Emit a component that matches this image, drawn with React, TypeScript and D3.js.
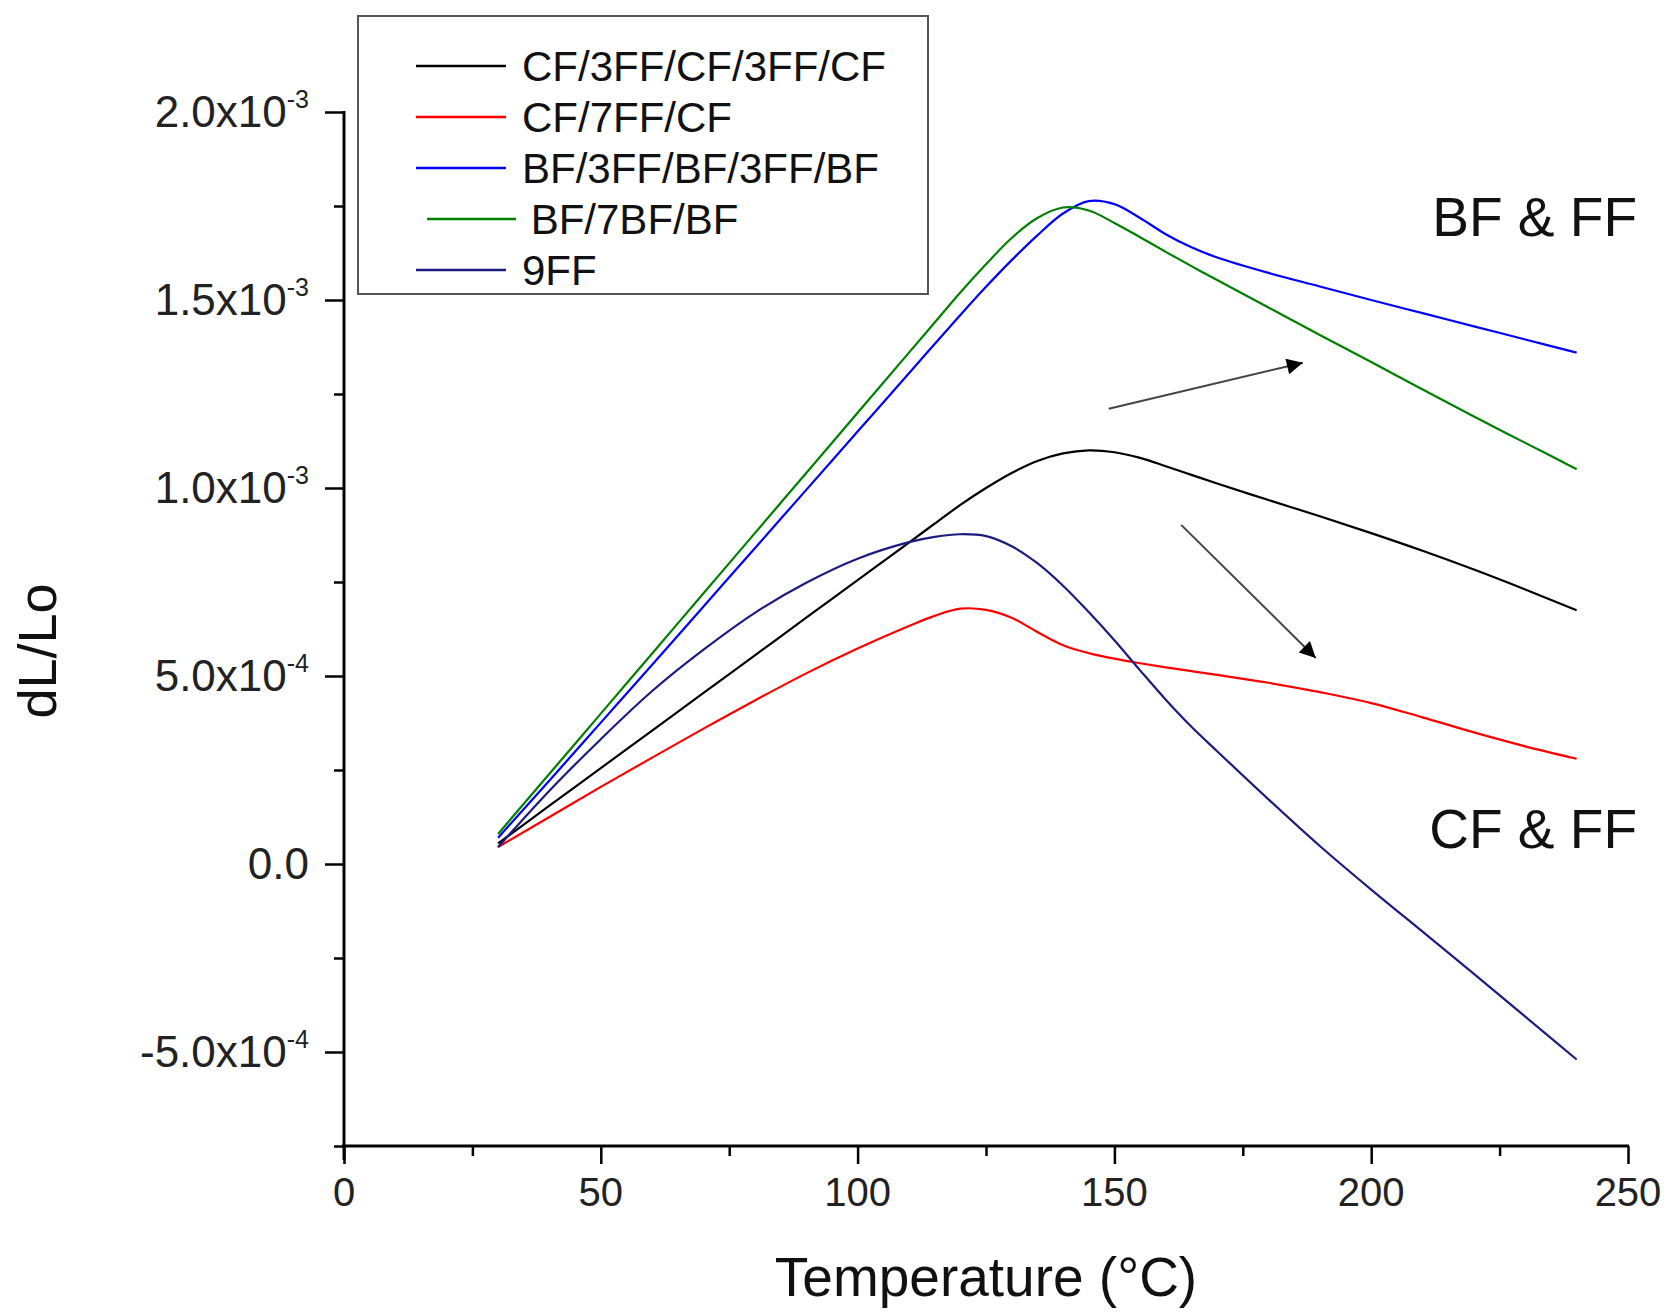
import React, { useEffect, useRef } from 'react';
import * as d3 from 'd3';

// temperatures (°C) shared by every series
const temps = [30, 40, 50, 60, 70, 80, 90, 100, 110, 115, 120, 125, 130, 135, 140, 145, 150, 155, 160, 165, 170, 180, 190, 200, 210, 220, 230, 240];

// dL/Lo values, in units of 1e-3
const cf3ff = [0.055, 0.155, 0.255, 0.355, 0.455, 0.555, 0.655, 0.755, 0.855, 0.905, 0.955, 1.0, 1.04, 1.072, 1.092, 1.1, 1.095, 1.08, 1.058, 1.035, 1.012, 0.968, 0.925, 0.88, 0.833, 0.783, 0.73, 0.675];
const cf7ff = [0.045, 0.125, 0.205, 0.283, 0.36, 0.435, 0.507, 0.573, 0.633, 0.66, 0.679, 0.676, 0.655, 0.617, 0.582, 0.561, 0.546, 0.534, 0.523, 0.513, 0.503, 0.482, 0.457, 0.428, 0.39, 0.35, 0.313, 0.28];
const bf3ff = [0.07, 0.222, 0.376, 0.53, 0.685, 0.84, 0.995, 1.15, 1.305, 1.383, 1.46, 1.535, 1.606, 1.672, 1.73, 1.763, 1.755, 1.718, 1.675, 1.64, 1.613, 1.572, 1.536, 1.5, 1.465, 1.43, 1.395, 1.36];
const bf7bf = [0.08, 0.24, 0.4, 0.56, 0.72, 0.88, 1.04, 1.2, 1.36, 1.44, 1.52, 1.595, 1.665, 1.718, 1.746, 1.738, 1.705, 1.667, 1.628, 1.59, 1.553, 1.48, 1.407, 1.335, 1.262, 1.19, 1.12, 1.05];
const ff9 = [0.045, 0.195, 0.332, 0.46, 0.57, 0.668, 0.748, 0.812, 0.856, 0.87, 0.877, 0.872, 0.845, 0.8, 0.74, 0.67, 0.595, 0.515, 0.437, 0.365, 0.3, 0.172, 0.048, -0.068, -0.18, -0.292, -0.406, -0.52];

const seriesNames = ['CF/3FF/CF/3FF/CF', 'CF/7FF/CF', 'BF/3FF/BF/3FF/BF', ' BF/7BF/BF', '9FF'];
const seriesColors = ['#000000', '#ff0000', '#0000ff', '#008000', '#1c1c80'];
const seriesValues = [cf3ff, cf7ff, bf3ff, bf7bf, ff9];

const xTicks = [0, 50, 100, 150, 200, 250];
const yTicks = [-5e-4, 0, 5e-4, 1e-3, 1.5e-3, 2e-3];
const yTickMain = ['-5.0x10', '0.0', '5.0x10', '1.0x10', '1.5x10', '2.0x10'];
const yTickExp = ['-4', '', '-4', '-3', '-3', '-3'];

// arrows: [t0, v0, t1, v1]
const arrows = [
  [148.9, 1.211e-3, 186.7, 1.333e-3],
  [163.0, 0.902e-3, 189.2, 0.548e-3],
];

const FONT = '"Liberation Sans", Arial, sans-serif';

function App() {
  const ref = useRef(null);

  useEffect(() => {
    const svg = d3.select(ref.current);
    svg.selectAll('*').remove();

    const left = 344, right = 1628, top = 112, bottom = 1146;

    const x = d3.scaleLinear().domain([0, 250]).range([left, right]);
    const y = d3.scaleLinear().domain([-7.5e-4, 2e-3]).range([bottom, top]);

    svg.append('defs').append('marker')
      .attr('id', 'head')
      .attr('viewBox', '0 0 10 10')
      .attr('refX', 10).attr('refY', 5)
      .attr('markerWidth', 10).attr('markerHeight', 8)
      .attr('markerUnits', 'strokeWidth')
      .attr('orient', 'auto')
      .append('path').attr('d', 'M0,0 L10,5 L0,10 z').attr('fill', '#000');

    // x axis
    const xg = svg.append('g').attr('transform', `translate(0,${bottom})`);
    xg.call(d3.axisBottom(x).tickValues(d3.range(0, 251, 25)).tickSize(9).tickFormat(() => ''));
    xg.call(g => g.select('.domain').remove());
    xg.selectAll('.tick line').attr('stroke', '#000').attr('stroke-width', 2.5)
      .attr('y2', d => (d % 50 === 0 ? 18 : 10));
    xg.append('line').attr('x1', left - 2).attr('x2', right + 1).attr('stroke', '#000').attr('stroke-width', 3);

    svg.append('g').selectAll('text').data(xTicks).enter().append('text')
      .attr('x', d => x(d)).attr('y', bottom + 60)
      .attr('text-anchor', 'middle')
      .style('font-family', FONT).style('font-size', '40px').attr('fill', '#222')
      .text(d => d);

    // y axis
    const yg = svg.append('g').attr('transform', `translate(${left},0)`);
    yg.call(d3.axisLeft(y).tickValues(d3.range(-3, 9).map(i => i * 2.5e-4)).tickSize(9).tickFormat(() => ''));
    yg.call(g => g.select('.domain').remove());
    yg.selectAll('.tick line').attr('stroke', '#000').attr('stroke-width', 2.5)
      .attr('x2', (d, i) => (i % 2 === 1 ? -19 : -10));
    yg.append('line').attr('y1', top - 1).attr('y2', bottom + 14).attr('stroke', '#000').attr('stroke-width', 3);

    const yl = svg.append('g').selectAll('text').data(yTicks).enter().append('text')
      .attr('x', 309).attr('y', d => y(d) + 15)
      .attr('text-anchor', 'end')
      .style('font-family', FONT).style('font-size', '44px').attr('fill', '#222');
    yl.append('tspan').text((d, i) => yTickMain[i]);
    yl.append('tspan').attr('dy', -19).style('font-size', '25px').text((d, i) => yTickExp[i]);

    // axis titles
    svg.append('text')
      .attr('x', 986).attr('y', 1296).attr('text-anchor', 'middle')
      .style('font-family', FONT).style('font-size', '55px').attr('fill', '#111')
      .text('Temperature (°C)');
    svg.append('text')
      .attr('transform', 'translate(56,651) rotate(-90)').attr('text-anchor', 'middle')
      .style('font-family', FONT).style('font-size', '54px').attr('fill', '#111')
      .text('dL/Lo');

    // curves
    const line = d3.line()
      .x((d, i) => x(temps[i]))
      .y(d => y(d * 1e-3))
      .curve(d3.curveCatmullRom.alpha(0.5));

    svg.append('g').selectAll('path').data(seriesValues).enter().append('path')
      .attr('d', d => line(d))
      .attr('fill', 'none')
      .attr('stroke', (d, i) => seriesColors[i])
      .attr('stroke-width', 2.2);

    // arrows
    svg.append('g').selectAll('line').data(arrows).enter().append('line')
      .attr('x1', d => x(d[0])).attr('y1', d => y(d[1]))
      .attr('x2', d => x(d[2])).attr('y2', d => y(d[3]))
      .attr('stroke', '#444').attr('stroke-width', 2)
      .attr('marker-end', 'url(#head)');

    // annotations
    svg.append('text').attr('x', 1637).attr('y', 236).attr('text-anchor', 'end')
      .style('font-family', FONT).style('font-size', '55px').attr('fill', '#111').text('BF & FF');
    svg.append('text').attr('x', 1637).attr('y', 848).attr('text-anchor', 'end')
      .style('font-family', FONT).style('font-size', '55px').attr('fill', '#111').text('CF & FF');

    // legend
    const lg = svg.append('g');
    lg.append('rect').attr('x', 358).attr('y', 16).attr('width', 570).attr('height', 278)
      .attr('fill', '#fff').attr('stroke', '#555').attr('stroke-width', 2);
    const rows = lg.selectAll('g').data(seriesNames).enter().append('g')
      .attr('transform', (d, i) => `translate(0,${66 + i * 51})`);
    rows.append('line')
      .attr('x1', (d, i) => (i === 3 ? 427 : 416)).attr('x2', (d, i) => (i === 3 ? 516 : 506))
      .attr('stroke', (d, i) => seriesColors[i]).attr('stroke-width', 2.5);
    rows.append('text')
      .attr('x', (d, i) => (i === 3 ? 519 : 522)).attr('y', 15)
      .attr('xml:space', 'preserve').style('white-space', 'pre')
      .style('font-family', FONT).style('font-size', '42px').attr('fill', '#111')
      .text(d => d);
  }, []);

  return (
    <div style={{ position: 'absolute', left: 0, top: 0 }}>
      <svg ref={ref} width={1672} height={1313} style={{ display: 'block', background: '#fff' }} />
    </div>
  );
}

export default App;
